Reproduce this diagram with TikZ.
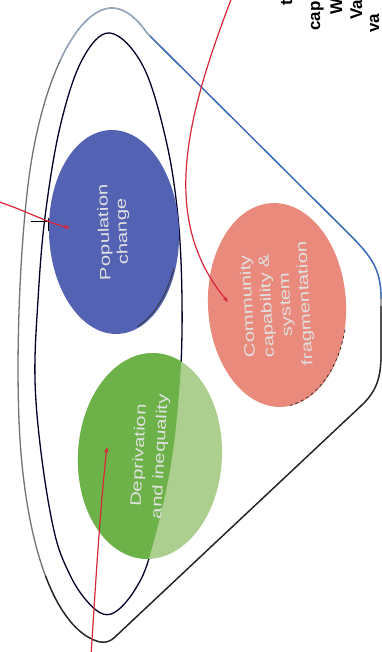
\documentclass[tikz,border=0pt]{standalone}
\usepackage{fontspec}
\setmainfont{Liberation Sans}
\newfontfamily\blobfont[FakeStretch=1.35]{Liberation Sans}
\usepackage{xcolor}
\usetikzlibrary{
  arrows.meta,
  shapes.geometric,
  positioning
}

\definecolor{popblue}{RGB}{84,98,180}
\definecolor{commpink}{RGB}{233,138,124}
\definecolor{deprgreen}{RGB}{108,178,72}
\definecolor{deprlight}{RGB}{172,206,142}
\definecolor{linkred}{RGB}{216,38,58}
\definecolor{loopblue}{RGB}{58,112,200}
\definecolor{apexgray}{RGB}{150,170,192}

\def\outerloop{(115,637) -- (363,404) .. controls (375,392) and (381,380) .. (381,355)
  -- (381,298) .. controls (381,270) and (372,257) .. (350,235) -- (147,33)
  .. controls (138,20) and (126,8) .. (112,8)
  .. controls (80,8) and (45,70) .. (30,170)
  .. controls (20,240) and (15,360) .. (20,440)
  .. controls (28,560) and (60,632) .. (100,642)
  .. controls (106,643) and (111,641) .. (115,637) -- cycle}
\def\innerloop{plot[smooth cycle, tension=0.6] coordinates {(110,33) (143,66) (166,140)
  (178,217) (182,300) (180,380) (170,470) (150,555) (136,588) (118,610) (103,614)
  (86,600) (70,575) (55,535) (42,460) (35,380) (38,300) (45,217) (60,127) (82,60)}}

\begin{document}
\begin{tikzpicture}[x=1pt, y=-1pt,
  blob/.style={ellipse, inner sep=0pt, minimum width=204pt, align=center,
    text=white!88!black, font=\blobfont\fontsize{15}{19}\selectfont},
  loopline/.style={line width=1.3pt, line join=round},
  link/.style={draw=linkred, line width=1.2pt, -{Stealth[length=6pt,width=4.5pt]}},
  margintext/.style={rotate=90, anchor=base west, inner sep=0pt,
    font=\bfseries\fontsize{17}{17}\selectfont}
]
  \useasboundingbox (0,0) rectangle (382,652);
  \fill[white] (0,0) rectangle (382,652);
  \clip (0,0) rectangle (382,652);

  % Outer loop, coloured piece by piece
  \draw[loopline, draw=black!55] \outerloop;
  \begin{scope}
    \clip (150,-5) -- (390,-5) -- (390,299) -- (300,299) -- (150,100) -- cycle;
    \draw[loopline, draw=loopblue] \outerloop;
  \end{scope}
  \begin{scope}
    \clip (40,-5) rectangle (150,60);
    \draw[loopline, draw=apexgray] \outerloop;
  \end{scope}
  \begin{scope}
    \clip (390,299) -- (390,660) -- (40,660) -- (40,580) -- cycle;
    \draw[loopline, draw=black!85] \outerloop;
  \end{scope}

  % Inner loop
  \draw[loopline, draw=black!85!blue] \innerloop;

  % Deprivation blob, darker inside the inner loop
  \fill[deprlight, rotate around={-3:(150,456)}] (150,456) ellipse [x radius=72, y radius=103];
  \begin{scope}
    \clip \innerloop;
    \fill[deprgreen, rotate around={-3:(150,456)}] (150,456) ellipse [x radius=72, y radius=103];
  \end{scope}
  \node[blob, rotate=87, minimum height=144pt, font=\blobfont\fontsize{15}{21}\selectfont]
    (depr) at (150,456) {Deprivation\\and inequality};

  % Population and community blobs
  \node[blob, fill=popblue, rotate=92, minimum height=130pt,
    font=\blobfont\fontsize{15}{18}\selectfont] (pop) at (114,232) {Population\\change};
  \node[blob, fill=commpink, rotate=93, minimum height=138pt] (comm) at (277,305)
    {Community\\capability \&\\system\\fragmentation};
  \draw[black!80, line width=0.8pt] (113,232) ++(21:65 and 102) arc[start angle=21, end angle=68, x radius=65, y radius=102];
  \draw[black!80, line width=0.8pt, dashed] (278,305) ++(14:69 and 102) arc[start angle=14, end angle=80, x radius=69, y radius=102];
  \draw[black, line width=1pt] (31,221) -- (48,221) (48,218) -- (48,231);

  % Red links from the margin
  \coordinate (popsrc) at (-4,201);
  \coordinate (poptip) at (70,228);
  \coordinate (commsrc) at (232,-3);
  \coordinate (commtip) at (228,302);
  \coordinate (deprsrc) at (91,656);
  \coordinate (deprtip) at (107,447);
  \draw[link] (popsrc) .. controls (25,210) and (45,222) .. (poptip);
  \draw[link] (commsrc) .. controls (185,120) and (160,220) .. (commtip);
  \draw[link] (deprsrc) .. controls (97,560) and (101,500) .. (deprtip);

  % Cut-off margin text
  \node[margintext] (fragt) at (292,6) {t};
  \node[margintext] (fragcap) at (320,31) {cap};
  \node[margintext] (fragw) at (342,15) {W};
  \node[margintext] (fragva) at (362,20) {Va};
  \node[margintext] (fragvb) at (379,33) {va};
\end{tikzpicture}
\end{document}
